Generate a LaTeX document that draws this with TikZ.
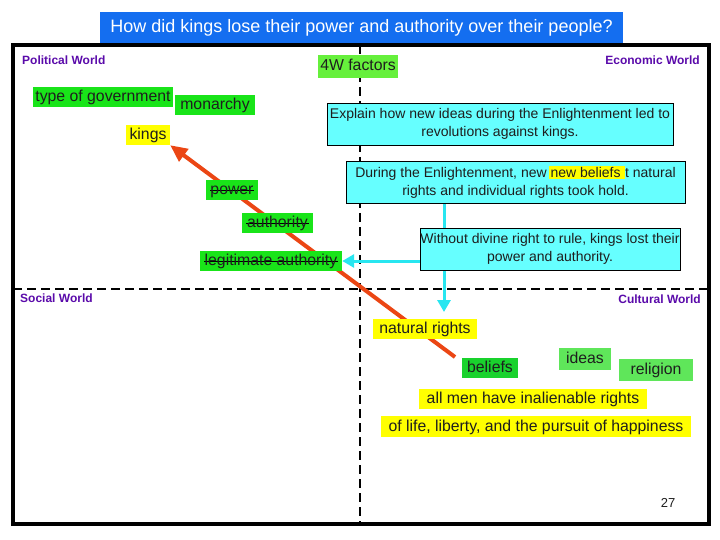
\documentclass[tikz,border=0pt]{standalone}
\usepackage{fontspec}
\setmainfont{Liberation Sans}
\usetikzlibrary{arrows.meta,backgrounds}
\definecolor{titleblue}{RGB}{20,110,240}
\definecolor{gA}{RGB}{25,228,25}
\definecolor{gFW}{RGB}{102,240,60}
\definecolor{gB}{RGB}{25,210,45}
\definecolor{gC}{RGB}{95,230,90}
\definecolor{ylw}{RGB}{255,255,0}
\definecolor{cyb}{RGB}{102,255,255}
\definecolor{cya}{RGB}{40,230,240}
\definecolor{redA}{RGB}{235,70,20}
\definecolor{purp}{RGB}{90,10,170}
\definecolor{txt}{RGB}{30,30,30}
\tikzset{
  world/.style={font=\fontsize{12}{14}\selectfont\bfseries, text=purp, inner sep=0pt},
  tag/.style={inner sep=0pt, minimum height=20pt, text height=12pt, text depth=3pt, font=\fontsize{15.8}{17}\selectfont, text=txt},
  strike/.style={path picture={\draw[line width=1.5pt,black] ([xshift=4pt,yshift=-0.4pt]path picture bounding box.west) -- ([xshift=-4pt,yshift=-0.4pt]path picture bounding box.east);}},
  cybox/.style={fill=cyb, draw=black, line width=0.7pt, inner sep=0pt, minimum height=42pt, align=center, font=\fontsize{14}{17.5}\selectfont, text=txt},
  dashln/.style={line width=2.6pt, dash pattern=on 9pt off 5pt},
}
\begin{document}
\begin{tikzpicture}[x=1pt,y=-1pt]
\useasboundingbox (0,0) rectangle (720,540);
% title
\node[fill=titleblue, text=white, minimum width=523pt, minimum height=31pt, inner sep=0pt, font=\fontsize{18}{20}\selectfont] (title) at (361.5,27.5) {How did kings lose their power and authority over their people?};
% labels
\node[world, anchor=west] (pol) at (22,60) {Political World};
\node[world, anchor=east] (eco) at (700,60) {Economic World};
\node[world, anchor=west] (soc) at (20,298) {Social World};
\node[world, anchor=east] (cul) at (701,299) {Cultural World};
% green / yellow tags
\node[tag, fill=gFW, minimum width=80pt, minimum height=23pt] (fw) at (358,66.5) {4W factors};
\node[tag, fill=gA, minimum width=140pt] (gov) at (103,97) {type of government};
\node[tag, fill=gA, minimum width=80pt] (mon) at (215,105) {monarchy};
\node[tag, fill=ylw, minimum width=44pt] (kings) at (148,135) {kings};
\node[tag, fill=gA, minimum width=52pt, strike] (power) at (232,190) {power};
\node[tag, fill=gA, minimum width=71pt, strike] (auth) at (277.5,223) {authority};
\node[tag, fill=gA, minimum width=142pt, strike] (legit) at (271,261) {legitimate authority};
\node[tag, fill=ylw, minimum width=104pt] (nat) at (425,329) {natural rights};
\node[tag, fill=gB, minimum width=56pt] (bel) at (490,368) {beliefs};
\node[tag, fill=gC, minimum width=52pt, minimum height=22pt] (ide) at (585,359) {ideas};
\node[tag, fill=gC, minimum width=74pt, minimum height=22pt] (rel) at (656,370) {religion};
\node[tag, fill=ylw, minimum width=228pt] (all) at (533,399) {all men have inalienable rights};
\node[tag, fill=ylw, minimum width=310pt, minimum height=21pt] (life) at (536,426.5) {of life, liberty, and the pursuit of happiness};
% cyan boxes
\node[cybox, minimum width=346pt] (exp) at (500,124) {Explain how new ideas during the Enlightenment led to\\revolutions against kings.};
\node[cybox, minimum width=339pt] (dur) at (515.5,182) {During the Enlightenment, new\,{\setlength\fboxsep{1.5pt}\colorbox{ylw}{new beliefs\hspace{3pt}}}t natural\\rights and individual rights took hold.};
\node[cybox, minimum width=260pt] (wo) at (550,249) {Without divine right to rule, kings lost their\\power and authority.};
\node[font=\fontsize{13}{15}\selectfont, text=txt, inner sep=0pt] (pg) at (668,503) {27};
% background: frame, dashed axes, arrows
\coordinate (rt) at (455,357);
\coordinate (cy) at (444,312);
\begin{scope}[on background layer]
\draw[line width=4pt] (13,45) rectangle (709,524);
\draw[dashln] (360,45) -- (360,524);
\draw[dashln] (13,289) -- (709,289);
\draw[redA, line width=4pt, -{Triangle[length=17pt,width=15pt]}] (rt) -- (kings.south east);
\draw[cya, line width=3pt, -{Triangle[length=12pt,width=13pt]}] (dur.south -| cy) -- (cy);
\draw[cya, line width=3pt, -{Triangle[length=12pt,width=13pt]}] (wo.west |- legit.east) -- (legit.east);
\end{scope}
\end{tikzpicture}
\end{document}
